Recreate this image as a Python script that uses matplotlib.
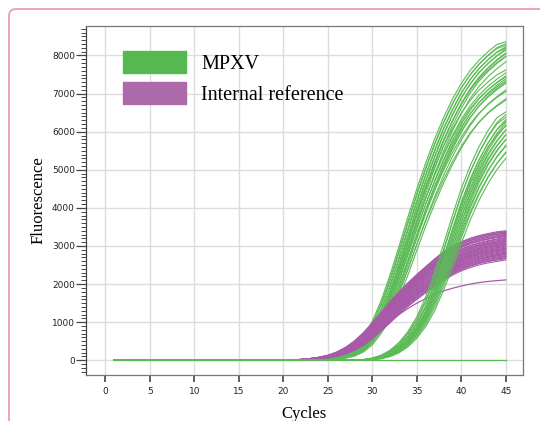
import numpy as np
import matplotlib.pyplot as plt
from matplotlib.patches import Patch, FancyBboxPatch
from matplotlib.transforms import IdentityTransform
from matplotlib.ticker import MultipleLocator

# amplification templates (cycles 1..45)
cycles = np.arange(1, 46)
mpxv_early = [0] * 24 + [20, 50, 100, 200, 380, 680, 1100, 1650, 2300, 3000, 3700,
                         4350, 4950, 5500, 5980, 6400, 6750, 7030, 7250, 7440, 7600]
mpxv_late = [0] * 28 + [10, 30, 80, 170, 320, 540, 850, 1250, 1820, 2450, 3150,
                        3850, 4450, 4950, 5380, 5720, 6000]
ic_curve = [0] * 20 + [5, 15, 30, 55, 90, 150, 240, 370, 540, 760, 1000, 1250, 1490,
                       1710, 1910, 2100, 2270, 2460, 2600, 2710, 2800, 2870, 2920, 2960, 3000]
ic_outlier = [0] * 20 + [5, 15, 30, 55, 90, 145, 225, 330, 470, 640, 830, 1020, 1200,
                         1360, 1500, 1620, 1730, 1820, 1890, 1950, 2000, 2040, 2070, 2090, 2110]
negative = [0] * 45

# end-point fluorescence (cycle 45) and small cycle offsets of each well
early_end = [8360, 8310, 8270, 8230, 8200, 8170, 8140, 8100, 8060, 8020, 7980, 7900,
             7620, 7560, 7510, 7470, 7440, 7400, 7370, 7330, 7200, 7100, 6980, 6900]
early_shift = [-0.6, -0.4, -0.5, -0.2, -0.3, 0.0, -0.1, 0.2, 0.1, 0.3, 0.0, 0.4,
               -0.2, 0.1, 0.3, 0.5, 0.0, 0.6, 0.2, 0.4, 0.7, 0.3, 0.8, 0.5]
late_end = [6520, 6450, 6380, 6320, 6280, 6240, 6200, 6150, 6100, 6050, 6000, 5950,
            5900, 5850, 5780, 5700, 5620, 5550, 5480]
late_shift = [-0.5, -0.3, -0.4, -0.1, -0.2, 0.0, 0.1, -0.2, 0.2, 0.0, 0.3, 0.1,
              0.4, 0.2, 0.5, 0.3, 0.6, 0.4, 0.7]
ic_end = [3400, 3380, 3360, 3350, 3330, 3310, 3300, 3280, 3260, 3250, 3230, 3210,
          3200, 3180, 3160, 3150, 3130, 3110, 3100, 3080, 3060, 3050, 3030, 3010,
          3000, 2980, 2960, 2950, 2930, 2910, 2900, 2880, 2860, 2850, 2830, 2810,
          2800, 2780, 2760, 2750, 2730, 2710, 2700, 2680, 2650]
ic_shift = [-0.4, -0.3, -0.5, -0.2, -0.4, -0.1, -0.3, 0.0, -0.2, -0.4, 0.1, -0.1,
            -0.3, 0.0, 0.2, -0.2, 0.1, -0.1, 0.3, 0.0, 0.2, -0.1, 0.1, 0.3,
            0.0, 0.2, 0.4, 0.1, 0.3, 0.0, 0.2, 0.4, 0.1, 0.3, 0.5, 0.2,
            0.4, 0.1, 0.3, 0.5, 0.2, 0.4, 0.6, 0.3, 0.5]

green = '#5dbb57'
purple = '#a85aa8'


def well(template, end, shift):
    t = np.array(template, dtype=float)
    return np.interp(cycles - shift, cycles, t) * end / t[-1]


fig = plt.figure(figsize=(5.4, 4.21), dpi=100)
ax = fig.add_axes([86 / 540, 1 - 375 / 421, 437 / 540, 349 / 421])

ax.plot(cycles, negative, color=green, lw=0.9)
for e, s in zip(early_end, early_shift):
    ax.plot(cycles, well(mpxv_early, e, s), color=green, lw=0.8)
for e, s in zip(ic_end, ic_shift):
    ax.plot(cycles, well(ic_curve, e, s), color=purple, lw=0.8)
ax.plot(cycles, ic_outlier, color=purple, lw=0.9)
for e, s in zip(late_end, late_shift):
    ax.plot(cycles, well(mpxv_late, e, s), color=green, lw=0.8)

ax.set_xlim(-2.17, 46.93)
ax.set_ylim(-386, 8774)
ax.set_xticks(range(0, 46, 5))
ax.set_yticks(range(0, 9000, 1000))
ax.yaxis.set_minor_locator(MultipleLocator(100))
ax.grid(color='#dcdcdc', lw=1.0)
ax.set_axisbelow(True)
for side in ax.spines:
    ax.spines[side].set_color('#777777')
    ax.spines[side].set_linewidth(0.9)
ax.spines['left'].set_color('#444444')
ax.tick_params(axis='y', which='major', length=7, width=0.9, color='#444444',
               labelsize=6.5, labelcolor='#222222', pad=1)
ax.tick_params(axis='y', which='minor', length=3.5, width=0.7, color='#444444')
ax.tick_params(axis='x', length=5, width=1.2, color='#444444',
               labelsize=6.5, labelcolor='#222222', pad=3.5)

serif = 'Liberation Serif'
ax.set_xlabel('Cycles', family=serif, fontsize=12, labelpad=7)
ax.set_ylabel('Fluorescence', family=serif, fontsize=12, labelpad=4)

handles = [Patch(color='#55b94f', label='MPXV'),
           Patch(color='#ac6aab', label='Internal reference')]
ax.legend(handles=handles, loc='upper left', bbox_to_anchor=(123 / 540, 1 - 51 / 421),
          bbox_transform=fig.transFigure, frameon=False, borderpad=0, borderaxespad=0,
          handlelength=3.13, handleheight=1.3, handletextpad=0.75, labelspacing=0.4,
          prop={'family': serif, 'size': 14.5})

# pink rounded frame around the panel
frame = FancyBboxPatch((9, -20), 560, 432, boxstyle='round,pad=0,rounding_size=7',
                       transform=IdentityTransform(), fill=False,
                       edgecolor='#ec9bbb', lw=1.3)
fig.add_artist(frame)

fig.savefig('out.png', dpi=100)
